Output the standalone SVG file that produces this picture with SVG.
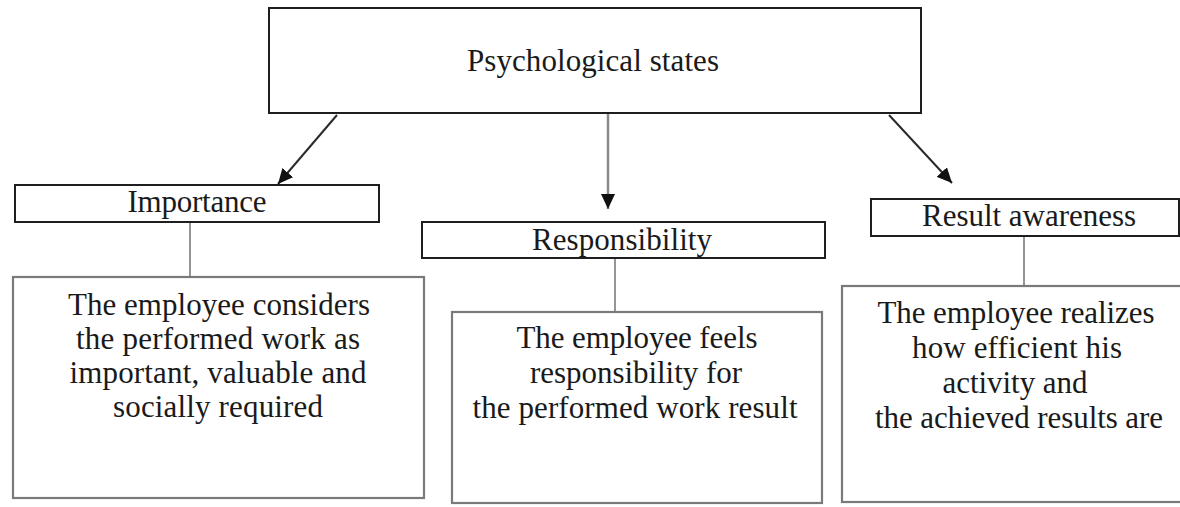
<svg xmlns="http://www.w3.org/2000/svg" width="1180" height="507" viewBox="0 0 1180 507">
<style>
.bg{fill:#ffffff}
.hdr{fill:#ffffff;stroke:#1e1e1e;stroke-width:2}
.body{fill:#ffffff;stroke:#7a7a7a;stroke-width:2.2}
.t{font-family:"Liberation Serif","Times New Roman",serif;font-size:31px;fill:#1a1a1a;text-anchor:middle}
.arr{stroke:#2a2a2a;stroke-width:2;fill:none}
.varr{stroke:#8a8a8a;stroke-width:2.5;fill:none}
.link{stroke:#8a8a8a;stroke-width:1.8;fill:none}
</style>
<defs>
<marker id="ah" markerUnits="userSpaceOnUse" markerWidth="16" markerHeight="14" refX="15" refY="7" orient="auto">
<path d="M0,0 L15,7 L0,14 Z" fill="#111"/>
</marker>
</defs>
<rect class="bg" x="0" y="0" width="1180" height="507"/>
<g id="connectors">
<line class="arr" x1="337" y1="115" x2="278" y2="184" marker-end="url(#ah)"/>
<line class="varr" x1="608" y1="113" x2="608" y2="209" marker-end="url(#ah)"/>
<line class="arr" x1="889" y1="115" x2="952" y2="183" marker-end="url(#ah)"/>
<line class="link" x1="190" y1="223" x2="190" y2="276"/>
<line class="link" x1="615" y1="259" x2="615" y2="311"/>
<line class="link" x1="1024" y1="237" x2="1024" y2="286"/>
</g>
<g id="psychological-states">
<rect class="hdr" x="269" y="8" width="652" height="105"/>
<text class="t" x="593" y="71" textLength="252" lengthAdjust="spacing">Psychological states</text>
</g>
<g id="importance">
<rect class="hdr" x="15" y="185" width="364" height="37"/>
<text class="t" x="197" y="212" textLength="139" lengthAdjust="spacing">Importance</text>
</g>
<g id="responsibility">
<rect class="hdr" x="422" y="222" width="403" height="36"/>
<text class="t" x="622" y="250" textLength="180" lengthAdjust="spacing">Responsibility</text>
</g>
<g id="result-awareness">
<rect class="hdr" x="871" y="199" width="308" height="37"/>
<text class="t" x="1029" y="226" textLength="214" lengthAdjust="spacing">Result awareness</text>
</g>
<g id="importance-desc">
<rect class="body" x="13" y="277" width="411" height="221"/>
<text class="t" x="219" y="315" textLength="302" lengthAdjust="spacing">The employee considers</text>
<text class="t" x="218" y="349" textLength="284" lengthAdjust="spacing">the performed work as</text>
<text class="t" x="218" y="383" textLength="297" lengthAdjust="spacing">important, valuable and</text>
<text class="t" x="218" y="417" textLength="210" lengthAdjust="spacing">socially required</text>
</g>
<g id="responsibility-desc">
<rect class="body" x="452" y="312" width="370" height="191"/>
<text class="t" x="637" y="348" textLength="241" lengthAdjust="spacing">The employee feels</text>
<text class="t" x="636" y="383" textLength="212" lengthAdjust="spacing">responsibility for</text>
<text class="t" x="635" y="418" textLength="325" lengthAdjust="spacing">the performed work result</text>
</g>
<g id="result-awareness-desc">
<rect class="body" x="842" y="286" width="350" height="216"/>
<text class="t" x="1016" y="323" textLength="277" lengthAdjust="spacing">The employee realizes</text>
<text class="t" x="1017" y="358" textLength="210" lengthAdjust="spacing">how efficient his</text>
<text class="t" x="1015" y="393" textLength="145" lengthAdjust="spacing">activity and</text>
<text class="t" x="1019" y="428" textLength="288" lengthAdjust="spacing">the achieved results are</text>
</g>
</svg>
